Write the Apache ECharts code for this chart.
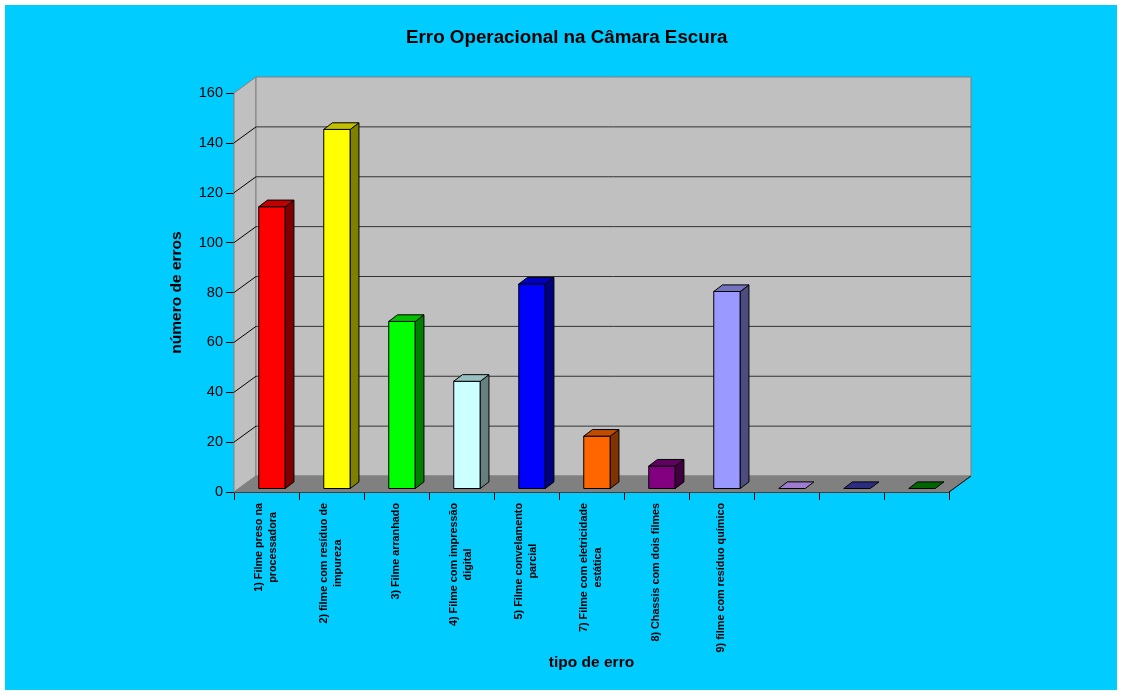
<!DOCTYPE html>
<html>
<head>
<meta charset="utf-8">
<script src="https://cdn.jsdelivr.net/npm/echarts@6/dist/echarts.min.js"></script>
<style>
html,body{margin:0;padding:0;background:#fff;}
#chart{width:1122px;height:695px;}
</style>
</head>
<body>
<div id="chart"></div>
<script>
const categories = [
  "1) Filme preso na\nprocessadora",
  "2) filme com resíduo de\nimpureza",
  "3) Filme arranhado",
  "4) Filme com impressão\ndigital",
  "5) Filme convelamento\nparcial",
  "7) Filme com eletricidade\nestática",
  "8) Chassis com dois filmes",
  "9) filme com resíduo químico",
  "", "", ""
];
const values = [113, 144, 67, 43, 82, 21, 9, 79, 0, 0, 0];
const yMin = 0, yMax = 160, yStep = 20;
const titleText = "Erro Operacional na Câmara Escura";
const yName = "número de erros";
const xName = "tipo de erro";

// colours: front, side, top
const faceColors = ['#FF0000','#FFFF00','#00FF00','#CCFFFF','#0000FF','#FF6600','#800080','#9999FF','#A07CD0','#2C2C80','#006400'];
const sideColors = ['#800000','#808000','#008000','#668080','#000080','#803300','#400040','#4C4C80','#604080','#16164a','#003000'];
const topColors  = ['#C00000','#C0C000','#00C000','#99C0C0','#0000C0','#C04C00','#600060','#7373C0','#A07CD0','#2C2C80','#006400'];

// 3D geometry (pixels)
const DX = 22, DY = -16;        // wall depth
const BX = 5.5, BY = -3.5;      // bar front offset
const BW = 26.5;                // bar front width
const BDX = 8.7, BDY = -6.6;    // bar depth

const chart = echarts.init(document.getElementById('chart'));

function renderWalls(params, api) {
  const cs = params.coordSys;
  const x0 = cs.x, y0 = cs.y, w = cs.width, h = cs.height;
  const ch = [];
  ch.push({type:'polygon', shape:{points:[[x0,y0],[x0+DX,y0+DY],[x0+DX,y0+h+DY],[x0,y0+h]]},
           style:{fill:'#C0C0C0', stroke:'#808080', lineWidth:1}});
  ch.push({type:'rect', shape:{x:x0+DX, y:y0+DY, width:w, height:h},
           style:{fill:'#C0C0C0', stroke:'#808080', lineWidth:1}});
  for (let v = yMin + yStep; v < yMax; v += yStep) {
    const yv = api.coord([0, v])[1];
    ch.push({type:'line', shape:{x1:x0+DX, y1:yv+DY, x2:x0+DX+w, y2:yv+DY}, style:{stroke:'#333333', lineWidth:1}});
    ch.push({type:'line', shape:{x1:x0, y1:yv, x2:x0+DX, y2:yv+DY}, style:{stroke:'#000000', lineWidth:1}});
  }
  ch.push({type:'polygon', shape:{points:[[x0,y0+h],[x0+DX,y0+h+DY],[x0+w+DX,y0+h+DY],[x0+w,y0+h]]},
           style:{fill:'#808080', stroke:'#808080', lineWidth:1}});
  ch.push({type:'line', shape:{x1:x0+w, y1:y0+h, x2:x0+w+DX, y2:y0+h+DY}, style:{stroke:'#000', lineWidth:1}});
  return {type:'group', children:ch};
}

function renderBar(params, api) {
  const i = api.value(0), v = api.value(1);
  const p0 = api.coord([i, 0]);
  const p1 = api.coord([i, v]);
  const cx = p0[0] + BX;
  const L = cx - BW/2, R = cx + BW/2;
  const B = p0[1] + BY, T = p1[1] + BY;
  const ch = [];
  if (v > 0) {
    ch.push({type:'rect', shape:{x:L, y:T, width:BW, height:B-T}, style:{fill:faceColors[i], stroke:'#000', lineWidth:1}});
    ch.push({type:'polygon', shape:{points:[[R,T],[R+BDX,T+BDY],[R+BDX,B+BDY],[R,B]]}, style:{fill:sideColors[i], stroke:'#000', lineWidth:1}});
  }
  ch.push({type:'polygon', shape:{points:[[L,T],[L+BDX,T+BDY],[R+BDX,T+BDY],[R,T]]}, style:{fill:topColors[i], stroke:'#000', lineWidth:1}});
  return {type:'group', children:ch};
}

const LABEL_FONT = 'bold 10.8px "Liberation Sans", Arial, sans-serif';
const measureCtx = document.createElement('canvas').getContext('2d');
measureCtx.font = LABEL_FONT;
function renderLabel(params, api) {
  const i = api.value(0);
  const txt = categories[i];
  if (!txt) return null;
  const p = api.coord([i, 0]);
  let maxW = 0;
  txt.split('\n').forEach(s => { maxW = Math.max(maxW, measureCtx.measureText(s).width); });
  return {type:'text', x:p[0], y:p[1] + 11 + maxW/2, rotation:Math.PI/2,
          style:{text:txt, font:LABEL_FONT, fill:'#000', align:'center', verticalAlign:'middle',
                 textAlign:'center', textVerticalAlign:'middle', lineHeight:14}};
}

const option = {
  animation: false,
  backgroundColor: '#ffffff',
  graphic: [{type:'rect', shape:{x:5, y:5, width:1112, height:685}, style:{fill:'#00CCFF'}, z:-10, silent:true}],
  title: {text: titleText, left: 401, top: 23,
          textStyle:{fontFamily:'"Liberation Sans", Arial, sans-serif', fontWeight:'bold', fontSize:18.8, color:'#000'}},
  grid: {left:234, top:93, width:715, height:399},
  xAxis: {type:'category', data:categories, boundaryGap:true,
          axisLine:{show:true, lineStyle:{color:'#000', width:1}},
          axisTick:{show:true, interval:0, length:8, inside:false, lineStyle:{color:'#000'}},
          axisLabel:{show:false, interval:0},
          name:xName, nameLocation:'middle', nameGap:163,
          nameTextStyle:{fontFamily:'"Liberation Sans", Arial, sans-serif', fontWeight:'bold', fontSize:15.5, color:'#000'}},
  yAxis: {type:'value', min:yMin, max:yMax, interval:yStep,
          axisLine:{show:true, lineStyle:{color:'#404040', width:1}},
          axisTick:{show:true, length:8, lineStyle:{color:'#000'}},
          axisLabel:{margin:11, fontFamily:'"Liberation Sans", Arial, sans-serif', fontSize:14.5, color:'#000'},
          splitLine:{show:false},
          name:yName, nameLocation:'middle', nameGap:49, nameRotate:90,
          nameTextStyle:{fontFamily:'"Liberation Sans", Arial, sans-serif', fontWeight:'bold', fontSize:15.5, color:'#000'}},
  series: [
    {type:'custom', z:1, renderItem:renderWalls, data:[[0,0]], silent:true},
    {type:'custom', z:3, renderItem:renderBar, data:values.map((v,i)=>[i,v]), silent:true},
    {type:'custom', z:3, renderItem:renderLabel, data:categories.map((c,i)=>[i,0]), silent:true}
  ]
};
chart.setOption(option);
</script>
</body>
</html>
